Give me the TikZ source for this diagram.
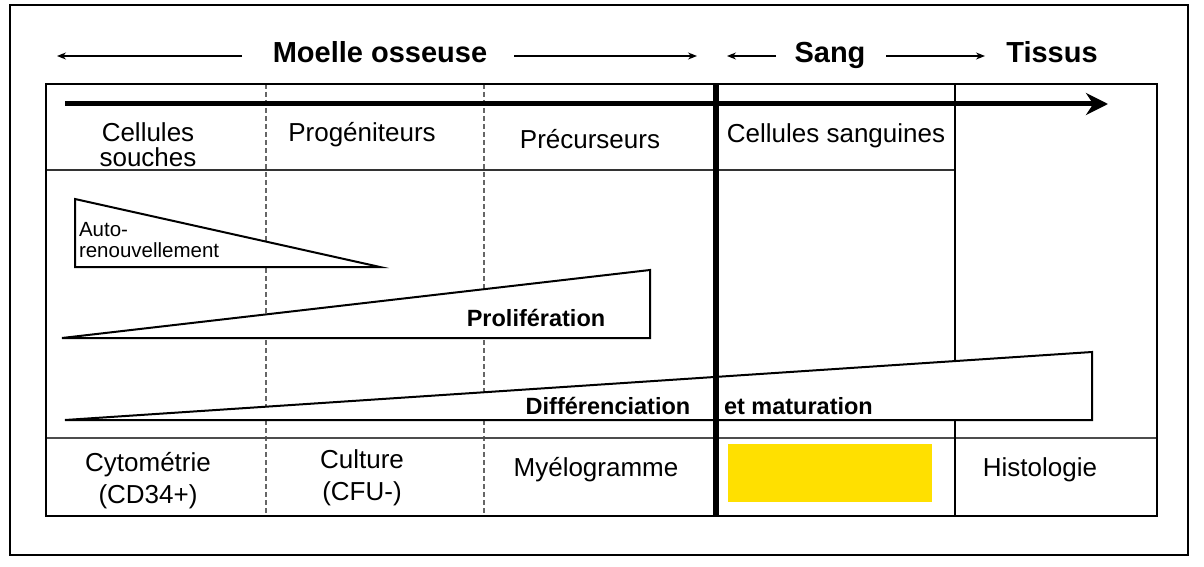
\documentclass[tikz,border=0pt]{standalone}
\usepackage{fontspec}
\setmainfont{Liberation Sans}
\usetikzlibrary{arrows.meta}
\definecolor{jaune}{HTML}{FFE000}
\tikzset{
  every node/.style={inner sep=0pt, outer sep=0pt},
  reg/.style={font=\fontsize{26}{27}\selectfont, align=center},
  hdr/.style={font=\fontsize{29}{30}\selectfont\bfseries, anchor=base},
  lbl/.style={font=\fontsize{23.5}{24}\selectfont\bfseries},
  small/.style={font=\fontsize{20.5}{21}\selectfont, align=left},
  tri/.style={draw=black, line width=2pt, fill=white, line join=miter},
  thin arrow/.style={line width=1.2pt, -{Stealth[length=9pt,width=7pt]}},
  dash line/.style={draw=gray!80!black, line width=1.5pt, dash pattern=on 5pt off 3pt},
}
\begin{document}
\begin{tikzpicture}[x=1pt,y=-1pt]
\useasboundingbox (0,0) rectangle (1204,567);
% outer frame
\draw[line width=1.5pt] (10,5) rectangle (1188,555);
% top labels
\node[hdr] (moelle) at (380,63) {Moelle osseuse};
\node[hdr] (sang) at (830,63) {Sang};
\node[hdr] (tissus) at (1052,63) {Tissus};
\coordinate (mL) at (57,56);
\coordinate (mR) at (697,56);
\coordinate (sL) at (727,56);
\coordinate (sR) at (985,56);
\coordinate (mLs) at (242,56);
\coordinate (mRs) at (514,56);
\coordinate (sLs) at (776,56);
\coordinate (sRs) at (886,56);
\draw[thin arrow] (mLs) -- (mL);
\draw[thin arrow] (mRs) -- (mR);
\draw[thin arrow] (sLs) -- (sL);
\draw[thin arrow] (sRs) -- (sR);
% table lines
\draw[dash line] (266,84) -- (266,516);
\draw[dash line] (484,84) -- (484,516);
\draw[line width=1.5pt, draw=black!80] (46,170) -- (955,170);
\draw[line width=2pt, draw=black!70] (46,438) -- (1157,438);
% triangles
\draw[tri] (75,199) -- (75,267) -- (380,267) -- cycle;
\draw[tri] (62,338) -- (650,270) -- (650,338) -- cycle;
\draw[line width=2pt] (955,84) -- (955,516);
\draw[tri] (65,420) -- (1092,352) -- (1092,420) -- cycle;
\draw[line width=6pt] (716,84) -- (716,516);
% table border
\draw[line width=2pt] (46,84) rectangle (1157,516);
% big arrow
\coordinate (aS) at (65,104);
\coordinate (aE) at (1108,104);
\draw[line width=5pt, -{Stealth[length=22pt,width=22pt]}] (aS) -- (aE);
% header texts
\node[reg, font=\fontsize{26}{25}\selectfont] (cs) at (148,145) {Cellules\\souches};
\node[reg] (prog) at (362,135) {Progéniteurs};
\node[reg] (prec) at (590,139) {Précurseurs};
\node[reg] (csang) at (836,136) {Cellules sanguines};
% triangle labels
\node[small, anchor=west] (auto) at (79,240) {Auto-\\renouvellement};
\node[lbl] (prolif) at (536,318) {Prolifération};
\node[lbl] (diff) at (608,406) {Différenciation};
\node[lbl, anchor=west] (matur) at (724,406) {et maturation};
% bottom row
\node[reg, font=\fontsize{26}{32}\selectfont] (cyto) at (148,481) {Cytométrie\\(CD34+)};
\node[reg, font=\fontsize{26}{32}\selectfont] (cult) at (362,478) {Culture\\(CFU-)};
\node[reg] (myelo) at (596,470) {Myélogramme};
\fill[jaune] (728,444) rectangle (932,502);
\node[reg] (histo) at (1040,470) {Histologie};
\end{tikzpicture}
\end{document}
